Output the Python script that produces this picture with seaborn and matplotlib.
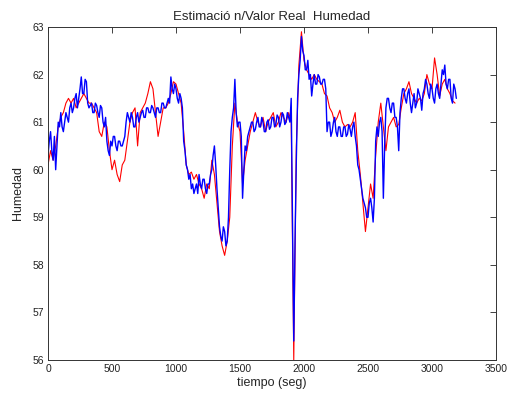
import numpy as np
import pandas as pd
import matplotlib
matplotlib.use("Agg")
import matplotlib.pyplot as plt
import seaborn as sns

# ---- data ----
t_red = list(range(0, 3200, 20))
red = [
    60.1, 60.4, 60.2, 60.5, 60.9, 61.1, 61.2, 61.4, 61.5, 61.4,
    61.5, 61.3, 61.4, 61.5, 61.6, 61.5, 61.4, 61.4, 61.3, 61.2,
    60.8, 60.7, 61.0, 60.9, 60.4, 60.0, 60.2, 59.9, 59.75, 60.1,
    60.2, 60.6, 61.0, 61.2, 61.3, 60.5, 61.2, 61.3, 61.4, 61.6,
    61.85, 61.7, 61.2, 60.7, 61.0, 61.3, 61.3, 61.4, 61.6, 61.85,
    61.8, 61.6, 61.4, 60.8, 60.1, 59.9, 59.95, 59.8, 59.9, 59.7,
    59.6, 59.4, 59.7, 59.6, 60.2, 59.9, 59.3, 58.7, 58.4, 58.2,
    58.5, 59.0, 60.5, 61.4, 61.0, 60.8, 59.7, 60.2, 60.5, 60.8,
    61.0, 61.2, 61.0, 60.9, 61.1, 60.8, 61.0, 61.1, 61.2, 60.9,
    61.0, 61.2, 61.1, 61.0, 61.2, 61.0, 56.0, 60.5, 62.2, 62.9,
    62.3, 62.1, 62.0, 61.9, 62.0, 61.9, 61.85, 61.8, 61.6, 61.55,
    61.3, 61.2, 61.0, 61.1, 61.25, 61.0, 60.9, 60.95, 60.9, 61.0,
    61.2, 60.4, 59.9, 59.3, 58.7, 59.2, 59.7, 59.4, 60.3, 61.0,
    61.4, 60.9, 60.4, 60.9, 61.0, 61.1, 60.9, 60.95, 61.3, 61.6,
    61.7, 61.85, 61.6, 61.5, 61.4, 61.5, 61.45, 61.6, 62.0, 61.8,
    61.7, 62.35, 62.0, 61.55, 61.8, 61.9, 61.7, 61.6, 61.45, 61.4,
]
t_blue = list(range(0, 3200, 10))
blue = [
    60.3, 60.6, 60.8, 60.4, 60.2, 60.7, 60.0, 60.5, 61.0, 60.9, 61.2, 60.9, 60.8, 61.0, 61.2, 61.1, 61.0, 61.3, 61.4, 61.2,
    61.3, 61.5, 61.6, 61.3, 61.5, 61.7, 61.95, 61.6, 61.6, 61.9, 61.85, 61.4, 61.3, 61.35, 61.4, 61.2, 61.2, 61.4, 61.35, 61.2,
    61.1, 61.35, 61.3, 61.0, 60.9, 61.1, 60.6, 60.4, 60.3, 60.6, 60.5, 60.7, 60.7, 60.5, 60.4, 60.6, 60.6, 60.5, 60.5, 60.6,
    60.7, 61.0, 61.2, 61.1, 61.0, 61.2, 61.1, 60.9, 60.9, 61.1, 61.2, 61.0, 61.1, 61.2, 61.25, 61.1, 61.1, 61.3, 61.3, 61.2,
    61.2, 61.35, 61.3, 61.2, 61.1, 61.3, 61.3, 61.2, 61.2, 61.4, 61.4, 61.3, 61.3, 61.4, 61.5, 61.4, 61.95, 61.7, 61.6, 61.8,
    61.7, 61.5, 61.4, 61.6, 61.5, 61.3, 60.6, 60.4, 60.1, 60.0, 59.8, 59.9, 59.6, 59.7, 59.5, 59.6, 59.7, 59.5, 59.9, 59.7,
    59.6, 59.8, 59.8, 59.6, 59.5, 59.7, 59.7, 59.9, 60.0, 60.3, 60.5, 60.1, 59.6, 59.2, 58.8, 58.6, 58.5, 58.8, 58.7, 58.4,
    58.5, 59.0, 60.0, 60.8, 61.1, 61.3, 61.9, 61.2, 60.9, 61.0, 61.0, 60.7, 59.4, 60.0, 60.5, 60.4, 60.7, 60.8, 60.9, 61.0,
    61.0, 60.8, 60.85, 61.0, 61.1, 60.9, 60.9, 61.1, 61.0, 60.8, 60.8, 61.0, 61.05, 60.85, 60.9, 61.1, 61.1, 60.9, 60.95, 61.15,
    61.1, 60.9, 61.0, 61.2, 61.15, 60.95, 61.0, 61.2, 61.1, 61.0, 61.5, 59.0, 56.4, 58.5, 60.2, 61.5, 62.0, 62.3, 62.8, 62.5,
    62.4, 62.1, 62.1, 62.3, 61.9, 62.0, 61.55, 61.8, 62.0, 61.8, 61.8, 62.0, 61.95, 61.8, 61.8, 61.9, 61.9, 61.7, 60.8, 61.0,
    61.0, 60.7, 60.8, 61.0, 61.1, 60.8, 60.7, 60.9, 60.9, 60.7, 60.7, 60.9, 60.9, 60.7, 60.75, 60.95, 60.85, 60.7, 60.9, 61.0,
    60.7, 60.5, 60.1, 60.0, 59.8, 59.6, 59.4, 59.3, 59.2, 59.0, 59.0, 59.3, 59.4, 59.2, 58.9, 59.4, 60.6, 60.9, 60.7, 61.0,
    61.1, 60.8, 59.4, 60.5, 61.3, 61.5, 61.5, 61.3, 61.2, 61.4, 61.4, 61.1, 61.1, 60.9, 60.4, 61.2, 61.5, 61.7, 61.7, 61.5,
    61.4, 61.6, 61.7, 61.4, 61.2, 61.4, 61.6, 61.3, 61.4, 61.7, 61.6, 61.5, 61.25, 61.6, 61.7, 61.9, 61.8, 61.6, 61.5, 61.8,
    61.7, 61.5, 61.4, 61.7, 61.8, 61.6, 61.5, 61.8, 62.1, 62.0, 62.2, 61.8, 61.7, 61.9, 61.9, 61.5, 61.4, 61.8, 61.7, 61.5,
]
x_ticks = [0, 500, 1000, 1500, 2000, 2500, 3000, 3500]
y_ticks = [56, 57, 58, 59, 60, 61, 62, 63]

df_red = pd.DataFrame({"t": t_red, "v": red})
df_blue = pd.DataFrame({"t": t_blue, "v": blue})

sns.set_theme(style="white")
plt.rcParams["font.family"] = ["Liberation Sans", "DejaVu Sans"]

fig = plt.figure(figsize=(5.07, 3.98), dpi=100)
ax = fig.add_axes([48 / 507, 38 / 398, 448 / 507, 333 / 398])

sns.lineplot(data=df_red, x="t", y="v", color="#ff0000", linewidth=0.8,
             estimator=None, sort=False, ax=ax)
sns.lineplot(data=df_blue, x="t", y="v", color="#0000ff", linewidth=1.0,
             estimator=None, sort=False, ax=ax)

ax.set_xlim(0, 3500)
ax.set_ylim(56, 63)
ax.set_xticks(x_ticks)
ax.set_yticks(y_ticks)
ax.tick_params(direction="in", top=True, right=True, length=4, width=0.6,
               labelsize=7.5, colors="#222222", pad=3)
for s in ax.spines.values():
    s.set_color("#333333")
    s.set_linewidth(0.7)
ax.set_title("Estimació n/Valor Real  Humedad", fontsize=9.5, pad=5)
ax.set_xlabel("tiempo (seg)", fontsize=9, labelpad=2)
ax.set_ylabel("Humedad", fontsize=9, labelpad=6)
ax.grid(False)

fig.savefig("out.png", dpi=100, facecolor="white")
